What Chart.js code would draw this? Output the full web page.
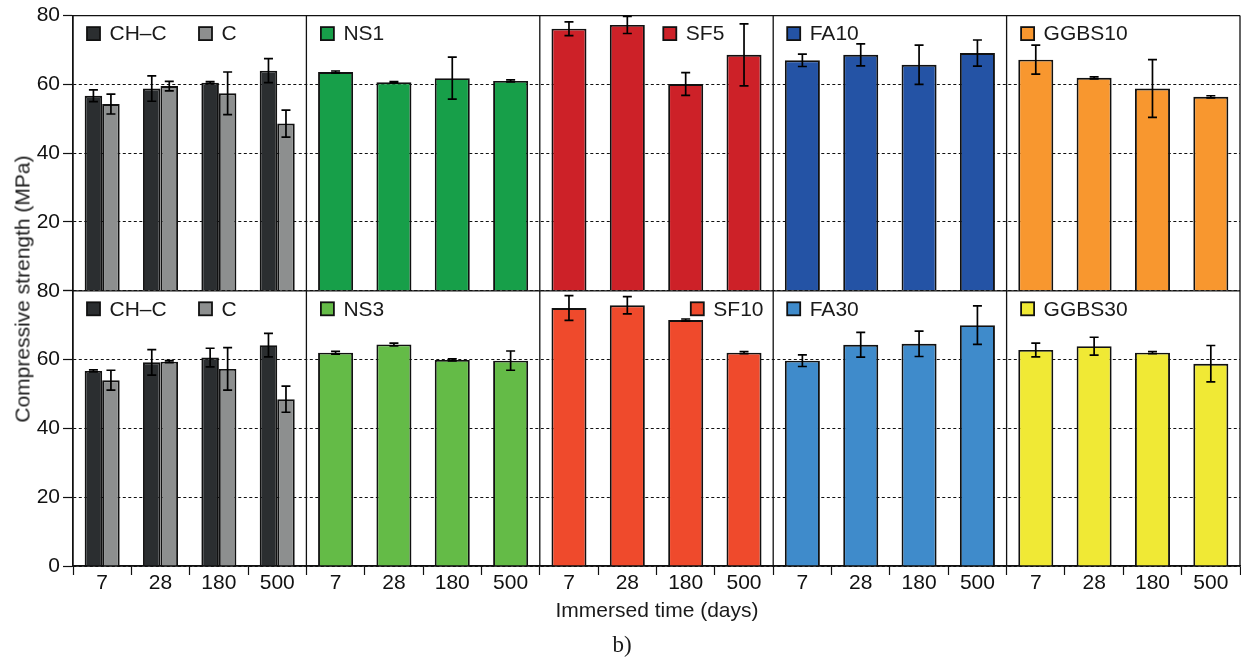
<!DOCTYPE html>
<html>
<head>
<meta charset="utf-8">
<title>Compressive strength</title>
<script src="https://cdn.jsdelivr.net/npm/chart.js@4.4.1/dist/chart.umd.min.js"></script>
<style>
  html, body { margin: 0; padding: 0; background: #fff; }
  #wrap { position: relative; width: 1241px; height: 661px; font-family: 'Liberation Sans', Arial, sans-serif; color: #1a1a1a; }
  #chart { position: absolute; left: 0; top: 0; }
  .ytitle { position: absolute; left: 22px; top: 289px; font-size: 21px; line-height: 1; white-space: nowrap; transform: translate(-50%, -50%) rotate(-90deg); }
  .xtitle { position: absolute; left: 657px; top: 599px; font-size: 21px; line-height: 1; white-space: nowrap; transform: translateX(-50%); }
  .caption { position: absolute; left: 622px; top: 633px; font-family: 'Liberation Serif', 'Times New Roman', serif; font-size: 23px; line-height: 1; transform: translateX(-50%); }
</style>
</head>
<body>
<div id="wrap">
  <canvas id="chart" width="1241" height="661"></canvas>
  <div class="ytitle">Compressive strength (MPa)</div>
  <div class="xtitle">Immersed time (days)</div>
  <div class="caption">b)</div>
</div>
<script>
const days = ['7', '28', '180', '500'];
const topMixes = ['NS1', 'SF5', 'FA10', 'GGBS10'];
const bottomMixes = ['NS3', 'SF10', 'FA30', 'GGBS30'];

// top row (MPa) and error half-widths
const chcTop = [56.7, 58.8, 60.5, 64.0];
const chcTopErr = [1.7, 3.7, 0.3, 3.5];
const cTop = [54.3, 59.5, 57.4, 48.6];
const cTopErr = [2.9, 1.4, 6.2, 3.9];
const ns1 = [63.6, 60.6, 61.8, 61.0];
const ns1Err = [0.3, 0.2, 6.1, 0.3];
const sf5 = [76.2, 77.3, 60.1, 68.6];
const sf5Err = [2.0, 2.5, 3.3, 9.0];
const fa10 = [67.0, 68.6, 65.7, 69.1];
const fa10Err = [1.8, 3.2, 5.7, 3.8];
const ggbs10 = [67.2, 61.9, 58.8, 56.4];
const ggbs10Err = [4.2, 0.3, 8.4, 0.3];

// bottom row
const chcBot = [56.7, 59.2, 60.6, 64.2];
const chcBotErr = [0.3, 3.7, 2.7, 3.4];
const cBot = [54.0, 59.4, 57.3, 48.5];
const cBotErr = [2.9, 0.3, 6.2, 3.8];
const ns3 = [62.0, 64.4, 59.9, 59.7];
const ns3Err = [0.4, 0.4, 0.3, 2.8];
const sf10 = [75.0, 75.8, 71.5, 62.0];
const sf10Err = [3.6, 2.5, 0.3, 0.3];
const fa30 = [59.7, 64.3, 64.6, 70.0];
const fa30Err = [1.7, 3.6, 3.7, 5.6];
const ggbs30 = [62.8, 63.9, 62.0, 58.8];
const ggbs30Err = [2.0, 2.6, 0.3, 5.3];

const colCHC = '#2b2e30';
const colC = '#8d8f8f';
const topColors = ['#179f49', '#cd2128', '#2453a5', '#f8972f'];
const bottomColors = ['#64bb47', '#ef4a2c', '#3f8bcb', '#f0e935'];

const labels = [].concat(days, days, days, days, days);
const blank = [null, null, null, null];
const rest = [].concat(blank, blank, blank, blank);

const mixTop = [].concat(blank, ns1, sf5, fa10, ggbs10);
const mixTopErr = [].concat(blank, ns1Err, sf5Err, fa10Err, ggbs10Err);
const mixBot = [].concat(blank, ns3, sf10, fa30, ggbs30);
const mixBotErr = [].concat(blank, ns3Err, sf10Err, fa30Err, ggbs30Err);

function perPanel(colors) {
  const out = ['#fff', '#fff', '#fff', '#fff'];
  colors.forEach(c => out.push(c, c, c, c));
  return out;
}

function bars(label, data, errors, color, yAxisID, stack) {
  return {
    label, data, errors, yAxisID, stack,
    backgroundColor: color,
    borderColor: '#111',
    borderWidth: 1.9,
    skipNull: true,
    categoryPercentage: 0.6,
    barPercentage: 1
  };
}

function rowScale(hideZero) {
  return {
    type: 'linear',
    position: 'left',
    stack: 'rows',
    stackWeight: 1,
    stacked: false,
    min: 0,
    max: 80,
    afterFit: s => { s.width = 73; },
    ticks: {
      stepSize: 10,
      padding: 3,
      color: '#111',
      font: { size: 21 },
      callback: v => (v % 20 === 0 && !(hideZero && v === 0)) ? v : ''
    },
    grid: {
      color: '#111',
      lineWidth: 1,
      tickLength: 10,
      tickWidth: 1.2,
      tickColor: c => (c.tick && c.tick.value % 20 === 0) ? '#111' : 'rgba(0,0,0,0)'
    },
    border: { color: '#111', width: 1.3, dash: [3, 2.5] }
  };
}

// panel index -> left pixel of that panel
function panelLeft(chart, p) {
  const x = chart.scales.x;
  if (p === 0) return chart.chartArea.left;
  if (p === 5) return chart.chartArea.right;
  return (x.getPixelForValue(4 * p - 1) + x.getPixelForValue(4 * p)) / 2;
}

const panelFrame = {
  id: 'panelFrame',
  beforeDatasetsDraw(chart) {
    const { ctx, chartArea: a } = chart;
    const mid = chart.scales.yBottom.getPixelForValue(80);
    ctx.save();
    ctx.strokeStyle = '#111';
    ctx.lineWidth = 1.3;
    ctx.beginPath();
    [a.top, mid, a.bottom].forEach(y => { ctx.moveTo(a.left, y); ctx.lineTo(a.right, y); });
    for (let p = 0; p <= 5; p++) {
      const xp = panelLeft(chart, p);
      ctx.moveTo(xp, a.top);
      ctx.lineTo(xp, a.bottom);
    }
    ctx.stroke();
    ctx.restore();
  }
};

const errorBars = {
  id: 'errorBars',
  afterDatasetsDraw(chart) {
    const ctx = chart.ctx;
    ctx.save();
    ctx.strokeStyle = '#000';
    ctx.lineWidth = 1.7;
    chart.data.datasets.forEach((ds, i) => {
      const meta = chart.getDatasetMeta(i);
      const y = chart.scales[ds.yAxisID];
      meta.data.forEach((bar, j) => {
        const v = ds.data[j], e = ds.errors[j];
        if (v == null || !e) return;
        const y1 = y.getPixelForValue(v + e);
        const y2 = y.getPixelForValue(v - e);
        ctx.beginPath();
        ctx.moveTo(bar.x, y1); ctx.lineTo(bar.x, y2);
        ctx.moveTo(bar.x - 4.5, y1); ctx.lineTo(bar.x + 4.5, y1);
        ctx.moveTo(bar.x - 4.5, y2); ctx.lineTo(bar.x + 4.5, y2);
        ctx.stroke();
      });
    });
    ctx.restore();
  }
};

const legendItems = [
  { row: 'yTop', panel: 0, dx: 14, text: 'CH–C', color: colCHC },
  { row: 'yTop', panel: 0, dx: 126, text: 'C', color: colC },
  { row: 'yTop', panel: 1, dx: 14.5, text: topMixes[0], color: topColors[0] },
  { row: 'yTop', panel: 2, dx: 123.5, text: topMixes[1], color: topColors[1] },
  { row: 'yTop', panel: 3, dx: 14, text: topMixes[2], color: topColors[2] },
  { row: 'yTop', panel: 4, dx: 14.5, text: topMixes[3], color: topColors[3] },
  { row: 'yBottom', panel: 0, dx: 14, text: 'CH–C', color: colCHC },
  { row: 'yBottom', panel: 0, dx: 126, text: 'C', color: colC },
  { row: 'yBottom', panel: 1, dx: 14.5, text: bottomMixes[0], color: bottomColors[0] },
  { row: 'yBottom', panel: 2, dx: 151, text: bottomMixes[1], color: bottomColors[1] },
  { row: 'yBottom', panel: 3, dx: 14, text: bottomMixes[2], color: bottomColors[2] },
  { row: 'yBottom', panel: 4, dx: 14.5, text: bottomMixes[3], color: bottomColors[3] }
];

const panelLegends = {
  id: 'panelLegends',
  afterDraw(chart) {
    const ctx = chart.ctx;
    ctx.save();
    ctx.font = "21px 'Liberation Sans', Arial, sans-serif";
    ctx.textBaseline = 'middle';
    ctx.textAlign = 'left';
    legendItems.forEach(it => {
      const top = chart.scales[it.row].getPixelForValue(80);
      const left = panelLeft(chart, it.panel) + it.dx;
      const cy = top + 18;
      ctx.fillStyle = it.color;
      ctx.fillRect(left, cy - 6.5, 13, 13);
      ctx.strokeStyle = '#111';
      ctx.lineWidth = 1.8;
      ctx.strokeRect(left, cy - 6.5, 13, 13);
      ctx.fillStyle = '#1a1a1a';
      ctx.fillText(it.text, left + 22.5, cy + 1);
    });
    ctx.restore();
  }
};

Chart.defaults.font.family = "'Liberation Sans', Arial, sans-serif";

new Chart(document.getElementById('chart').getContext('2d'), {
  type: 'bar',
  data: {
    labels: labels,
    datasets: [
      bars('CH–C', [].concat(chcTop, rest), [].concat(chcTopErr, rest), colCHC, 'yTop', 'a'),
      bars('C', [].concat(cTop, rest), [].concat(cTopErr, rest), colC, 'yTop', 'b'),
      bars('top mixes', mixTop, mixTopErr, perPanel(topColors), 'yTop', 'm'),
      bars('CH–C', [].concat(chcBot, rest), [].concat(chcBotErr, rest), colCHC, 'yBottom', 'a'),
      bars('C', [].concat(cBot, rest), [].concat(cBotErr, rest), colC, 'yBottom', 'b'),
      bars('bottom mixes', mixBot, mixBotErr, perPanel(bottomColors), 'yBottom', 'm')
    ]
  },
  options: {
    responsive: false,
    animation: false,
    devicePixelRatio: 1,
    layout: { padding: { top: 13, right: 1, left: 0, bottom: 0 } },
    plugins: { legend: { display: false }, tooltip: { enabled: false } },
    scales: {
      x: {
        afterFit: s => { s.height = 95; },
        grid: { offset: true, drawOnChartArea: false, tickLength: 9, tickWidth: 1.2, tickColor: '#111' },
        border: { color: '#111', width: 1.3 },
        ticks: { autoSkip: false, maxRotation: 0, padding: -2, color: '#111', font: { size: 21, lineHeight: 1 } }
      },
      // stacked scales: the one listed last is placed on top
      yBottom: rowScale(false),
      yTop: rowScale(true)
    }
  },
  plugins: [panelFrame, errorBars, panelLegends]
});
</script>
</body>
</html>
